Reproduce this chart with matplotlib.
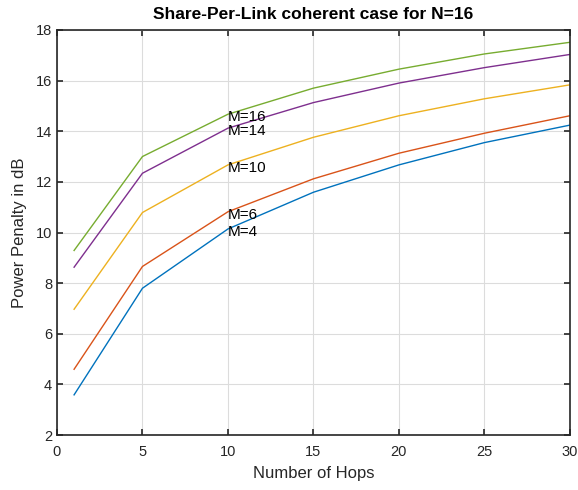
import matplotlib
matplotlib.use('Agg')
import matplotlib.pyplot as plt

plt.rcParams['font.family'] = ['Liberation Sans', 'DejaVu Sans']

# Number of hops
hops = [1, 5, 10, 15, 20, 25, 30]

# Power penalty (dB) per M value
m4 = [3.59, 7.80, 10.14, 11.59, 12.67, 13.55, 14.24]
m6 = [4.60, 8.66, 10.82, 12.12, 13.13, 13.92, 14.61]
m10 = [6.97, 10.79, 12.67, 13.76, 14.61, 15.28, 15.83]
m14 = [8.63, 12.34, 14.12, 15.13, 15.90, 16.51, 17.03]
m16 = [9.29, 13.00, 14.67, 15.70, 16.45, 17.05, 17.51]

series = [('M=4', m4, '#0072BD'), ('M=6', m6, '#D95319'),
          ('M=10', m10, '#EDB120'), ('M=14', m14, '#7E2F8E'),
          ('M=16', m16, '#77AC30')]

fig = plt.figure(figsize=(5.78, 4.9), dpi=100)
ax = fig.add_axes([0.0986, 0.112, 0.8874, 0.827])

for label, vals, col in series:
    ax.plot(hops, vals, color=col, linewidth=1.0)
    ax.text(10, vals[2] - 0.12, label, fontsize=11, va='center', ha='left', color='black')

ax.set_xlim(0, 30)
ax.set_ylim(2, 18)
ax.set_xticks(range(0, 31, 5))
ax.set_yticks(range(2, 19, 2))
ax.grid(True, color='#dcdcdc', linewidth=0.8)
ax.set_axisbelow(True)
ax.tick_params(direction='in', top=True, right=True, length=4, width=1.2,
               labelsize=10.5, colors='#262626')
ax.tick_params(axis='x', pad=7)
for s in ax.spines.values():
    s.set_color('#262626')
    s.set_linewidth(1.2)

ax.set_xlabel('Number of Hops', fontsize=12, color='#262626', labelpad=5)
ax.set_ylabel('Power Penalty in dB', fontsize=12, color='#262626', labelpad=6)
ax.set_title('Share-Per-Link coherent case for N=16', fontsize=12.5,
             fontweight='bold', pad=8)

fig.savefig('out.png', dpi=100)
